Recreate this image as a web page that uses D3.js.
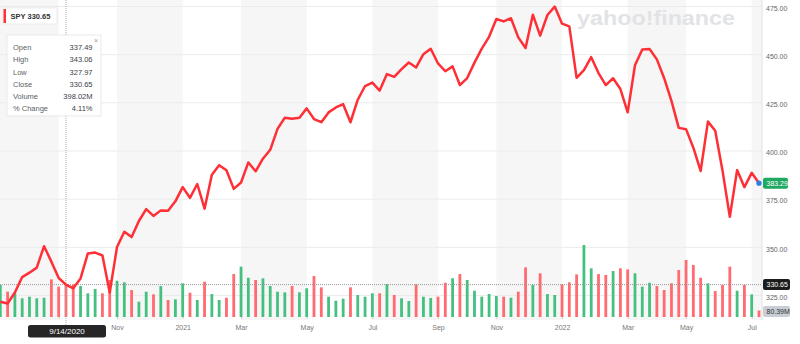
<!DOCTYPE html>
<html>
<head>
<meta charset="utf-8">
<script src="https://cdn.jsdelivr.net/npm/d3@7"></script>
<style>
  body { margin: 0; background: #fff; }
  svg { display: block; font-family: "Liberation Sans", Arial, sans-serif; }
</style>
</head>
<body>
<div class="chart"></div>
<script>
// weekly SPY closes, week of 7/13/2020 .. week of 7/11/2022
const closes = [
  321.72, 320.88, 326.52, 334.57, 336.84, 339.48, 350.58, 342.57, 334.06, 330.65,
  328.73, 333.84, 346.85, 347.29, 345.78, 326.54, 350.16, 358.10, 355.33, 363.67,
  369.85, 366.30, 369.18, 369.00, 373.88, 381.26, 375.70, 382.88, 370.07, 387.71,
  392.64, 390.03, 380.36, 383.63, 394.06, 389.48, 395.98, 400.61, 411.49, 417.26,
  416.74, 417.30, 422.12, 416.58, 414.94, 420.04, 422.60, 424.31, 414.92, 426.61,
  433.72, 435.52, 431.34, 439.94, 438.51, 442.49, 445.92, 443.36, 450.25, 453.08,
  445.44, 441.40, 443.91, 434.24, 437.86, 445.87, 453.12, 459.25, 468.53, 467.27,
  468.89, 458.97, 453.42, 470.74, 459.87, 470.60, 474.96, 466.09, 464.72, 437.98,
  441.95, 448.70, 440.46, 434.23, 437.75, 432.17, 420.07, 444.52, 452.69, 452.92,
  447.57, 437.79, 426.04, 412.00, 411.34, 401.72, 389.63, 415.26, 410.54, 389.80,
  365.86, 390.08, 381.24, 388.67, 383.29
]
const prevClose = 317.59

// weekly volume, millions
const volumes = [
  397, 314, 294, 232, 252, 232, 239, 467, 376, 398.02,
  405, 384, 294, 347, 294, 459, 450, 430, 335, 190,
  314, 281, 384, 211, 219, 418, 301, 211, 438, 285,
  211, 239, 533, 624, 487, 459, 480, 384, 314, 306,
  384, 306, 356, 508, 368, 252, 202, 227, 368, 273,
  252, 294, 294, 409, 273, 232, 198, 405, 252, 236,
  252, 425, 480, 533, 459, 326, 252, 285, 260, 252,
  239, 314, 616, 397, 542, 285, 273, 405, 430, 529,
  893, 604, 533, 521, 570, 604, 591, 542, 376, 425,
  384, 335, 418, 583, 707, 645, 487, 418, 322, 397,
  624, 326, 397, 281, 80.39
]

const priceTicks = [325, 350, 375, 400, 425, 450, 475]

const tooltipLabels = ["Open", "High", "Low", "Close", "Volume", "% Change"]
const tooltipValues = ["337.49", "343.06", "327.97", "330.65", "398.02M", "4.11%"]

const hoverIndex = 9
const hoverDate = "9/14/2020"

const weeks = d3.timeMonday.range(new Date(2020, 6, 13), new Date(2022, 6, 12))
const data = weeks.map((d, i) => ({
  date: d,
  close: closes[i],
  volume: volumes[i],
  up: closes[i] >= (i ? closes[i - 1] : prevClose)
}))

const width = 800, height = 344
const plotRight = 762

const svg = d3.select(".chart")
  .append("svg")
    .attr("width", width)
    .attr("height", height)

const x = d3.scaleTime()
  .domain(d3.extent(weeks))
  .range([0.3, 759])

const y = d3.scaleLinear()
  .domain([325, 475])
  .range([295.5, 6.5])

const yVol = d3.scaleLinear()
  .domain([0, 1000])
  .range([317, 236.4])

// first week of each month -> band edges and axis ticks
const monthStarts = weeks.filter((d, i) => i > 0 && d.getMonth() !== weeks[i - 1].getMonth())
const tickDates = monthStarts.filter(d => d.getMonth() % 2 === 0)

// date badge spans this range, ticks under it get no label
const dateBox = [28, 106]

// shaded bands: Nov-Dec, Mar-Apr, Jul-Aug
const edges = [weeks[0]].concat(tickDates)
const bands = []
edges.forEach((d, i) => {
  const m = i === 0 ? 6 : d.getMonth()
  if (m === 10 || m === 2 || m === 6) {
    const x0 = i === 0 ? 0 : x(d)
    const x1 = i + 1 < edges.length ? x(edges[i + 1]) : plotRight
    bands.push([x0, x1])
  }
})
svg.selectAll(".band")
  .data(bands)
  .join("rect")
    .attr("class", "band")
    .attr("x", d => d[0])
    .attr("width", d => d[1] - d[0])
    .attr("y", 0)
    .attr("height", 320)
    .attr("fill", "#f6f6f6")

// watermark
svg.append("text")
  .attr("x", 577)
  .attr("y", 25)
  .attr("textLength", 158)
  .attr("lengthAdjust", "spacingAndGlyphs")
  .style("font-size", "21px")
  .style("font-weight", "bold")
  .attr("fill", "#e2e3e6")
  .text("yahoo!finance")

// grid
svg.selectAll(".grid")
  .data(priceTicks)
  .join("line")
    .attr("x1", 0)
    .attr("x2", plotRight)
    .attr("y1", d => y(d))
    .attr("y2", d => y(d))
    .attr("stroke", "#ebebeb")
    .attr("stroke-width", 1)

svg.append("line")
  .attr("x1", plotRight).attr("x2", plotRight)
  .attr("y1", 0).attr("y2", 320)
  .attr("stroke", "#e2e2e2")

// volume bars
svg.selectAll(".vol")
  .data(data)
  .join("rect")
    .attr("x", d => x(d.date) - 1.4)
    .attr("width", 2.8)
    .attr("y", d => yVol(d.volume))
    .attr("height", d => yVol(0) - yVol(d.volume))
    .attr("fill", d => d.up ? "#45c080" : "#ff6b70")

// crosshair
svg.append("line")
  .attr("x1", x(weeks[hoverIndex])).attr("x2", x(weeks[hoverIndex]))
  .attr("y1", 0).attr("y2", 325)
  .attr("stroke", "#aaa")
  .attr("stroke-dasharray", "1,1")
svg.append("line")
  .attr("x1", 0).attr("x2", plotRight)
  .attr("y1", y(closes[hoverIndex])).attr("y2", y(closes[hoverIndex]))
  .attr("stroke", "#999")
  .attr("stroke-dasharray", "1,1")

// price line
svg.append("path")
  .datum(data)
  .attr("fill", "none")
  .attr("stroke", "#ff2f36")
  .attr("stroke-width", 2.5)
  .attr("stroke-linejoin", "round")
  .attr("d", d3.line()
    .x(d => x(d.date))
    .y(d => y(d.close)))

const last = data[data.length - 1]
svg.append("circle")
  .attr("cx", x(last.date))
  .attr("cy", y(last.close))
  .attr("r", 2.6)
  .attr("fill", "#2b7de9")

// right axis
const yAxis = svg.append("g")
  .attr("transform", `translate(${plotRight + 4},1.5)`)
  .call(d3.axisRight(y).tickValues(priceTicks).tickFormat(d3.format(".2f")).tickSize(0))
yAxis.select(".domain").remove()
yAxis.selectAll("text")
  .attr("x", 0)
  .attr("fill", "#666")
  .style("font-size", "7px")
  .style("font-family", "Liberation Sans, Arial, sans-serif")

// bottom axis
const xAxis = svg.append("g")
  .attr("transform", "translate(0,317)")
  .call(d3.axisBottom(x).tickValues(tickDates)
    .tickFormat(d => {
      const px = x(d)
      if (px > dateBox[0] && px < dateBox[1]) return ""
      return d.getMonth() === 0 ? d3.timeFormat("%Y")(d) : d3.timeFormat("%b")(d)
    })
    .tickSize(2).tickPadding(6))
xAxis.select(".domain").remove()
xAxis.selectAll("line").attr("stroke", "#ccc")
xAxis.selectAll("text")
  .attr("fill", "#777")
  .style("font-size", "7px")
  .style("font-family", "Liberation Sans, Arial, sans-serif")

// axis badges
function badge(yPos, w, label, bg, fg) {
  const g = svg.append("g").attr("transform", `translate(${plotRight + 1},${yPos})`)
  g.append("rect")
    .attr("x", 0).attr("y", -5.5)
    .attr("width", w).attr("height", 11)
    .attr("rx", 2)
    .attr("fill", bg)
  g.append("text")
    .attr("x", 3.5).attr("y", 0)
    .attr("dy", "0.35em")
    .attr("fill", fg)
    .style("font-size", "7px")
    .text(label)
}
badge(y(last.close), 25, last.close.toFixed(2), "#1fa862", "#fff")
badge(y(closes[hoverIndex]), 27, closes[hoverIndex].toFixed(2), "#1c1c1c", "#fff")
badge(yVol(last.volume) + 1, 27, last.volume.toFixed(2) + "M", "#c9cdd4", "#333")

// date badge
const dateG = svg.append("g")
dateG.append("rect")
  .attr("x", dateBox[0]).attr("y", 325)
  .attr("width", dateBox[1] - dateBox[0]).attr("height", 12.5)
  .attr("rx", 2.5)
  .attr("fill", "#262626")
dateG.append("text")
  .attr("x", (dateBox[0] + dateBox[1]) / 2).attr("y", 331.5)
  .attr("dy", "0.35em")
  .attr("text-anchor", "middle")
  .attr("fill", "#fff")
  .style("font-size", "8px")
  .text(hoverDate)

// symbol label
const sym = svg.append("g")
sym.append("rect")
  .attr("x", 3).attr("y", 8)
  .attr("width", 54).attr("height", 16)
  .attr("fill", "#fff")
  .attr("stroke", "#e6e6e6")
  .attr("stroke-width", 0.7)
sym.append("rect")
  .attr("x", 3.5).attr("y", 9)
  .attr("width", 2.5).attr("height", 14)
  .attr("fill", "#ff2f36")
sym.append("text")
  .attr("x", 10.5).attr("y", 16.5)
  .attr("dy", "0.35em")
  .attr("fill", "#333")
  .style("font-size", "7.5px")
  .style("font-weight", "bold")
  .text("SPY " + closes[hoverIndex].toFixed(2))

// tooltip
const tip = svg.append("g")
tip.append("rect")
  .attr("x", 7).attr("y", 35)
  .attr("width", 94).attr("height", 81)
  .attr("fill", "#fff")
  .attr("stroke", "#e3e3e3")
  .attr("stroke-width", 0.8)
tip.append("text")
  .attr("x", 96).attr("y", 41)
  .attr("dy", "0.35em")
  .attr("text-anchor", "middle")
  .attr("fill", "#999")
  .style("font-size", "7px")
  .text("×")
tooltipLabels.forEach((l, i) => {
  const ry = 47.5 + i * 12.2
  tip.append("text")
    .attr("x", 13).attr("y", ry)
    .attr("dy", "0.35em")
    .attr("fill", "#5a5f66")
    .style("font-size", "7.5px")
    .text(l)
  tip.append("text")
    .attr("x", 92.5).attr("y", ry)
    .attr("dy", "0.35em")
    .attr("text-anchor", "end")
    .attr("fill", "#3c4047")
    .style("font-size", "7.5px")
    .text(tooltipValues[i])
})
</script>
</body>
</html>
